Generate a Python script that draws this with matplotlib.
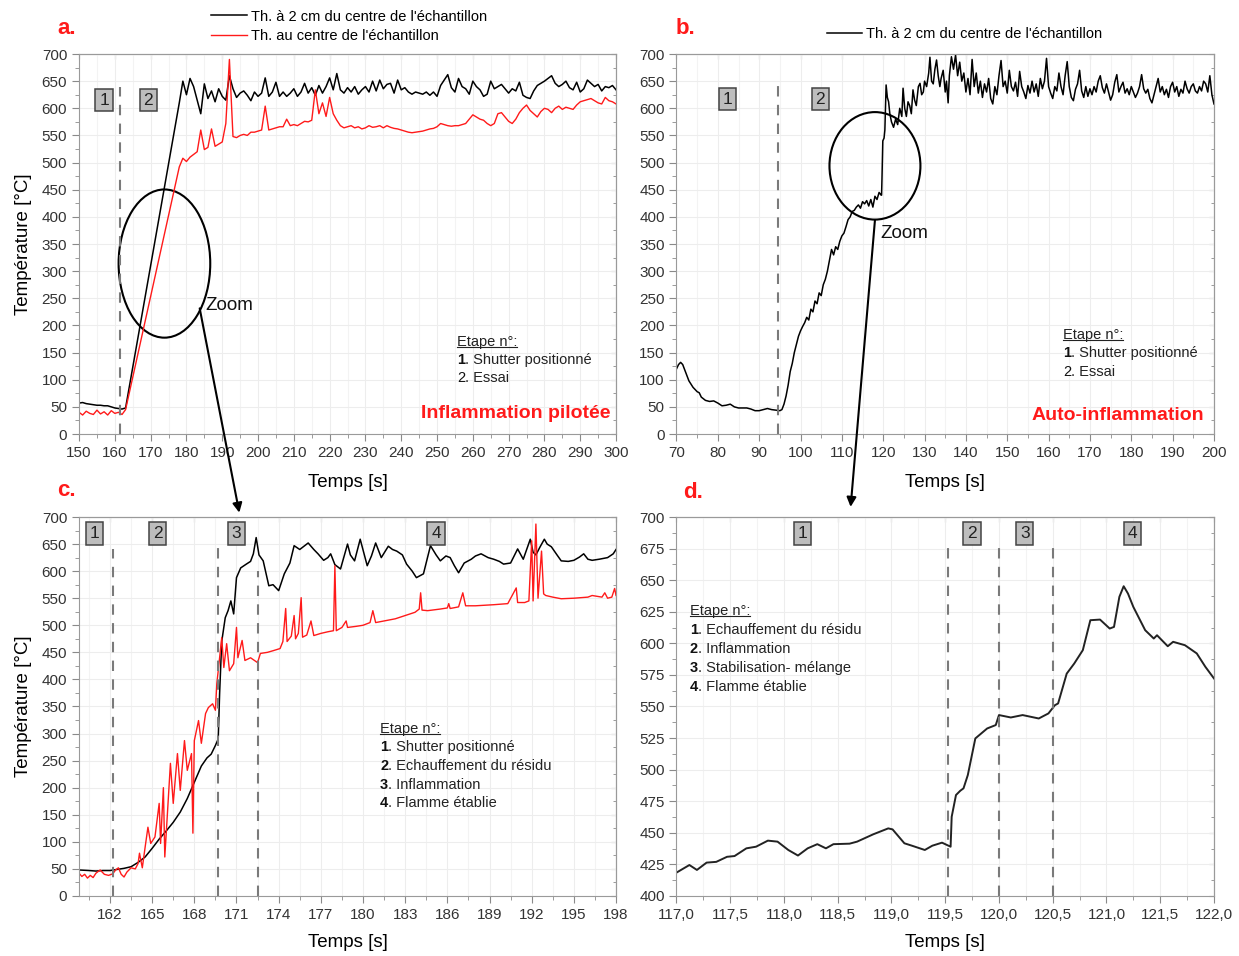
import numpy as np
import matplotlib.pyplot as plt
from matplotlib.patches import Ellipse, ConnectionPatch
from matplotlib.ticker import MultipleLocator, FuncFormatter
from matplotlib.lines import Line2D

plt.rcParams['font.family'] = ['Liberation Sans', 'DejaVu Sans']

# ---- panel a : piloted ignition (150-300 s) ----
a_early_t = [150, 151, 152, 153, 154, 155, 156, 157, 158, 159, 160, 161, 162, 163]
a_black_early = [57, 58, 56, 55, 54, 53, 53, 52, 52, 50, 48, 47, 46, 48]
a_red_early = [40, 35, 42, 38, 36, 44, 37, 41, 35, 43, 38, 40, 36, 45]
a_late_start = 178  # 1 s sampling after the gap
a_black_late = [610, 650, 625, 655, 640, 615, 590, 645, 618, 632,
                612, 636, 622, 615, 660, 636, 620, 628, 632, 624,
                614, 630, 622, 628, 656, 622, 630, 648, 622, 630,
                622, 628, 636, 622, 630, 646, 628, 638, 624, 642,
                628, 640, 656, 634, 664, 634, 628, 638, 630, 640,
                626, 634, 640, 630, 650, 632, 652, 636, 644, 646,
                628, 652, 634, 638, 630, 626, 630, 628, 626, 630,
                624, 630, 622, 642, 652, 662, 638, 630, 655, 640,
                636, 626, 650, 640, 634, 622, 626, 650, 636, 640,
                644, 636, 628, 636, 632, 648, 624, 620, 618, 632,
                642, 646, 650, 655, 660, 646, 640, 644, 650, 638,
                634, 648, 630, 636, 652, 646, 640, 644, 632, 640,
                638, 642, 634]
a_red_late = [492, 508, 502, 510, 515, 520, 560, 524, 528, 562,
              530, 534, 538, 572, 690, 548, 546, 550, 552, 550,
              556, 556, 558, 560, 604, 560, 562, 564, 566, 566,
              580, 568, 570, 568, 572, 576, 575, 578, 634, 590,
              610, 585, 620, 590, 578, 568, 564, 566, 568, 564,
              566, 562, 564, 568, 565, 566, 568, 564, 568, 565,
              563, 562, 560, 558, 556, 555, 556, 557, 558, 560,
              562, 563, 566, 572, 570, 568, 567, 568, 568, 570,
              572, 580, 588, 584, 580, 578, 572, 568, 572, 590,
              592, 584, 576, 572, 580, 592, 600, 606, 596, 590,
              584, 594, 600, 598, 592, 600, 604, 598, 602, 600,
              598, 606, 612, 614, 616, 618, 614, 610, 608, 620,
              614, 612, 608]

# ---- panel b : auto-ignition (70-200 s) ----
b_early_t = [70, 70.5, 71, 71.5, 72, 72.5, 73, 74, 75, 75.5, 76, 77, 78, 79, 80, 81, 82, 83,
             84, 85, 86, 87, 88, 89, 90, 91, 92, 93, 94, 95, 95.5, 96, 96.5, 97, 97.5, 98,
             98.5, 99, 99.5, 100, 100.5, 101, 101.5, 102, 102.5, 103, 103.5, 104, 104.5, 105,
             105.5, 106, 106.5, 107, 107.5, 108, 108.5, 109, 109.5, 110, 110.5, 111, 111.5,
             112, 112.5, 113, 113.5, 114, 114.5, 115, 115.5, 116, 116.5, 117, 117.5, 118,
             118.5, 119, 119.5, 119.6, 119.7, 119.9, 120.2, 120.4, 120.7, 121, 121.3, 121.6,
             122, 122.5, 123, 123.5, 124, 124.5, 124.8, 125.2, 125.6, 126, 126.4, 126.8,
             127.2, 127.6, 128, 128.5, 128.9, 129.3, 129.7, 130, 130.5, 131, 131.3, 131.7,
             132.1, 132.5, 132.9, 133.3, 133.7, 134, 134.5, 135, 135.3, 135.7, 136, 136.5,
             137, 137.5, 138, 138.5, 139, 139.5]
b_early_T = [120, 128, 132, 128, 118, 108, 98, 86, 78, 76, 68, 62, 60, 61, 57, 52, 53, 55,
             50, 48, 48, 48, 46, 43, 43, 45, 47, 45, 44, 43, 45, 55, 70, 90, 115, 130,
             150, 165, 180, 190, 198, 205, 215, 210, 230, 225, 245, 240, 260, 255,
             275, 285, 300, 320, 340, 330, 345, 340, 355, 365, 370, 382, 395,
             400, 410, 412, 418, 422, 416, 428, 424, 430, 420, 432, 418, 438,
             432, 445, 440, 440, 470, 540, 545, 560, 643, 620, 612, 590,
             575, 565, 580, 570, 600, 585, 637, 600, 585, 612, 605, 590,
             634, 615, 605, 640, 646, 625, 630, 650, 640, 665, 694, 650,
             645, 672, 689, 660, 640, 655, 670, 630, 650, 610, 660, 695,
             672, 698, 660, 685, 650, 665]
b_late_start = 140  # 0.5 s sampling
b_late_T = [630, 655, 625, 690, 640, 665, 628, 650, 620, 645,
            630, 655, 618, 608, 640, 625, 660, 688, 640, 650,
            628, 670, 640, 632, 648, 622, 668, 640, 630, 618,
            642, 628, 650, 630, 645, 622, 655, 636, 650, 692,
            640, 628, 618, 640, 632, 665, 640, 625, 660, 686,
            640, 620, 614, 635, 645, 670, 632, 620, 640, 622,
            636, 625, 640, 630, 650, 660, 638, 628, 645, 630,
            615, 625, 648, 662, 630, 640, 648, 628, 636, 625,
            640, 630, 620, 628, 640, 662, 636, 628, 635, 618,
            610, 625, 640, 655, 630, 640, 625, 635, 620, 640,
            648, 630, 640, 622, 635, 628, 650, 636, 628, 640,
            645, 632, 628, 640, 632, 650, 645, 630, 660, 625,
            608]

# ---- panel c : zoom on piloted ignition ----
c_black_t = [159.8, 160.5, 161, 161.5, 162, 162.5, 163, 163.5, 164, 164.5, 165, 165.5, 166,
             166.5, 167, 167.5, 168, 168.5, 168.9, 169.2, 169.5, 169.7, 169.8, 169.95, 170.2,
             170.4, 170.6, 170.8, 171.0, 171.3, 171.7, 172.0, 172.2, 172.4, 172.6, 172.9,
             173.3, 173.6, 174.0, 174.4, 174.8, 175.1, 175.5, 176.1, 176.5, 176.8, 177.2,
             177.5, 177.7, 178.0, 178.4, 178.9, 179.1, 179.4, 179.8, 180.3, 180.6, 180.9,
             181.3, 181.8, 182.1, 182.4, 182.8, 183.1, 183.5, 183.8, 184.3, 184.8, 185.2,
             185.5, 185.9, 186.2, 186.5, 186.8, 187.2, 187.7, 188.0, 188.4, 188.9, 189.3,
             189.7, 190.0, 190.5, 191.0, 191.4, 191.9, 192.1, 192.3, 192.6, 192.9, 193.1,
             193.4, 193.8, 194.1, 194.6, 195.0, 195.4, 195.7, 196.0, 196.3, 196.8, 197.4,
             197.8, 198.0]
c_black_T = [48, 47, 46, 47, 47, 49, 51, 54, 62, 72, 88, 105, 120,
             136, 155, 180, 210, 240, 255, 262, 278, 290, 374, 470, 514,
             527, 545, 521, 588, 606, 613, 618, 632, 662, 630, 619,
             573, 575, 564, 595, 615, 647, 640, 652, 640, 632, 620,
             625, 632, 612, 604, 650, 630, 619, 659, 610, 628, 652,
             625, 646, 640, 637, 630, 613, 600, 588, 595, 647, 630,
             619, 628, 625, 610, 597, 615, 622, 628, 632, 625, 622,
             618, 613, 615, 641, 622, 659, 635, 630, 645, 659, 650,
             645, 630, 619, 618, 620, 626, 632, 622, 620, 622, 625,
             632, 640]
c_red_t = [159.8, 160.0, 160.2, 160.4, 160.6, 160.8, 161.0, 161.3, 161.6, 161.9, 162.2, 162.4,
           162.6, 162.8, 163.0, 163.2, 163.5, 163.8, 164.0, 164.1, 164.3, 164.5, 164.7, 164.9,
           165.2, 165.5, 165.6, 165.8, 165.9, 166.1, 166.3, 166.5, 166.8, 167.0, 167.3, 167.5,
           167.8, 167.9, 168.0, 168.3, 168.5, 168.8, 169.0, 169.3, 169.5, 169.6, 169.7, 169.95,
           170.1, 170.3, 170.5, 170.8, 171.0, 171.1, 171.4, 171.6, 172.0, 172.5, 172.7, 173.2,
           173.6, 174.1, 174.3, 174.5, 174.6, 174.9, 175.1, 175.2, 175.4, 175.6, 175.7, 176.0,
           176.3, 176.5, 177.0, 177.5, 177.9, 178.0, 178.1, 178.5, 178.8, 178.9, 179.5, 180.0,
           180.5, 180.7, 180.9, 181.5, 182.3, 183.0, 183.7, 184.0, 184.1, 184.2, 184.6, 185.5,
           186.0, 186.1, 186.2, 186.8, 187.1, 187.3, 188.0, 189.3, 190.3, 190.9, 191.0, 191.5,
           191.8, 192.0, 192.1, 192.3, 192.45, 192.7, 192.85, 193.0, 193.5, 194.1, 195.0,
           196.0, 196.3, 197.0, 197.2, 197.4, 197.7, 197.9, 198.0]
c_red_T = [42, 36, 40, 33, 38, 34, 42, 48, 40, 38, 41, 48,
           52, 40, 35, 44, 52, 50, 60, 79, 52, 90, 127, 97,
           109, 171, 97, 200, 72, 158, 245, 171, 263, 195, 287, 232,
           263, 116, 287, 324, 282, 337, 348, 355, 343, 392, 416, 477,
           422, 466, 416, 429, 496, 440, 472, 435, 440, 431, 448, 450,
           453, 457, 470, 531, 470, 480, 518, 475, 485, 551, 478, 482,
           508, 481, 485, 488, 490, 610, 490, 496, 508, 496, 498, 500,
           505, 527, 505, 508, 512, 518, 524, 530, 560, 528, 527, 530,
           532, 540, 531, 534, 560, 536, 536, 538, 540, 569, 542, 542,
           545, 656, 545, 687, 550, 637, 558, 555, 552, 549, 550,
           552, 555, 552, 560, 550, 552, 568, 555]

# ---- panel d : zoom on auto-ignition ----
d_t = [117.0, 117.12, 117.19, 117.28, 117.37, 117.47, 117.54, 117.65, 117.74, 117.85, 117.94,
       118.04, 118.13, 118.22, 118.31, 118.39, 118.46, 118.61, 118.68, 118.83, 118.97, 119.01,
       119.12, 119.19, 119.31, 119.38, 119.47, 119.55, 119.56, 119.60, 119.64, 119.67, 119.71,
       119.78, 119.89, 119.97, 120.00, 120.11, 120.22, 120.37, 120.46, 120.52, 120.55, 120.63,
       120.70, 120.78, 120.85, 120.94, 121.03, 121.07, 121.12, 121.16, 121.20, 121.25, 121.36,
       121.44, 121.47, 121.57, 121.62, 121.73, 121.84, 121.92, 122.0]
d_T = [418.5, 424.5, 420.6, 426.4, 427, 431, 431.6, 437.7, 439, 443.8, 443,
       436.4, 432, 437.7, 441, 437.7, 441, 441.4, 443, 448.8, 453.5, 452.7,
       441.7, 439.8, 436.4, 439.8, 442.2, 439, 462.7, 479.9, 483.3, 485.2, 495.7,
       524.7, 532.6, 535.3, 543.2, 541.3, 543.2, 540.5, 544.5, 551, 552.4, 576,
       584, 594.6, 618.3, 618.8, 611.7, 613, 636.8, 645.2, 639.4, 628.8, 610.4,
       603.8, 606.4, 597.7, 601.2, 598.5, 592, 581.4, 572.2]

lbl_far = "Th. à 2 cm du centre de l'échantillon"
lbl_ctr = "Th. au centre de l'échantillon"

RED = '#ff1a1a'
DASH = '#7a7a7a'
FS = 10.5

fig = plt.figure(figsize=(12.39, 9.56), dpi=100)
ax_a = fig.add_axes([0.0638, 0.546, 0.4334, 0.3975])
ax_b = fig.add_axes([0.546, 0.546, 0.4338, 0.3975])
ax_c = fig.add_axes([0.0638, 0.0628, 0.4334, 0.3964])
ax_d = fig.add_axes([0.546, 0.0628, 0.4338, 0.3964])


def style(ax, xlim, ylim, xmaj, xmin, ymaj, ymin, fmt=None):
    ax.set_xlim(xlim)
    ax.set_ylim(ylim)
    ax.xaxis.set_major_locator(MultipleLocator(xmaj))
    ax.xaxis.set_minor_locator(MultipleLocator(xmin))
    ax.yaxis.set_major_locator(MultipleLocator(ymaj))
    ax.yaxis.set_minor_locator(MultipleLocator(ymin))
    if fmt:
        ax.xaxis.set_major_formatter(FuncFormatter(fmt))
    ax.grid(True, which='major', color='#ededed', lw=0.8)
    ax.grid(True, which='minor', axis='x', color='#f3f3f3', lw=0.8)
    ax.set_axisbelow(True)
    for s in ax.spines.values():
        s.set_color('#9a9a9a')
    ax.tick_params(which='both', direction='out', color='#8a8a8a', labelcolor='#333333', labelsize=11)
    ax.tick_params(which='major', length=5)
    ax.tick_params(which='minor', length=3)
    top = ax.secondary_xaxis('top')
    top.xaxis.set_major_locator(MultipleLocator(xmaj))
    top.xaxis.set_minor_locator(MultipleLocator(xmin))
    top.tick_params(which='both', direction='in', labeltop=False, color='#8a8a8a')
    top.spines['top'].set_color('#9a9a9a')
    right = ax.secondary_yaxis('right')
    right.yaxis.set_major_locator(MultipleLocator(ymaj))
    right.yaxis.set_minor_locator(MultipleLocator(ymin))
    right.tick_params(which='both', direction='in', labelright=False, color='#8a8a8a')
    right.spines['right'].set_color('#9a9a9a')


def box(ax, x, y, s):
    ax.text(x, y, s, ha='center', va='center', fontsize=12.5, color='#222222',
            bbox=dict(boxstyle='square,pad=0.22', fc='#bdbdbd', ec='#444444', lw=1.1))


def vdash(ax, x, y0, y1):
    ax.plot([x, x], [y0, y1], color=DASH, lw=1.5, ls=(0, (5, 4)))


underlines = []


def etape(ax, x, ys, items):
    t = ax.text(x, ys[0], 'Etape n°:', transform=ax.transAxes, fontsize=FS,
                color='#222222', va='center')
    underlines.append(t)
    for y, (num, txt, bold) in zip(ys[1:], items):
        tn = ax.text(x, y, num, transform=ax.transAxes, fontsize=FS, va='center',
                     fontweight='bold' if bold else 'normal', color='#111111')
        ax.annotate(txt, xy=(1, 0), xycoords=tn, va='bottom', ha='left',
                    fontsize=FS, color='#222222')


# panel a
ax_a.plot(a_early_t + [a_late_start + i for i in range(len(a_black_late))],
          a_black_early + a_black_late, color='black', lw=1.1, label=lbl_far)
ax_a.plot(a_early_t + [a_late_start + i for i in range(len(a_red_late))],
          a_red_early + a_red_late, color=RED, lw=1.0, label=lbl_ctr)
style(ax_a, (150, 300), (0, 700), 10, 5, 50, 25)
vdash(ax_a, 161.3, 0, 640)
box(ax_a, 157, 615, '1')
box(ax_a, 169.3, 615, '2')
ax_a.add_patch(Ellipse((173.85, 314), 25.6, 273, fill=False, ec='black', lw=1.5))
ax_a.text(185.3, 237, 'Zoom', fontsize=13.5, va='center', color='#111111')
ax_a.text(0.989, 0.053, 'Inflammation pilotée', transform=ax_a.transAxes, ha='right',
          va='center', color=RED, fontsize=14, fontweight='bold')
etape(ax_a, 0.704, [0.242, 0.195, 0.147],
      [('1', '. Shutter positionné', True), ('2', '. Essai', False)])
ax_a.legend(loc='lower left', bbox_to_anchor=(0.245, 1.03), frameon=False, fontsize=FS,
            handlelength=2.5, handletextpad=0.25, labelspacing=0.35, borderpad=0,
            borderaxespad=0)
ax_a.set_xlabel('Temps [s]', fontsize=13.5)
ax_a.set_ylabel('Température [°C]', fontsize=13.5)
ax_a.xaxis.set_label_coords(0.5, -0.105)
ax_a.yaxis.set_label_coords(-0.088, 0.5)

# panel b
ax_b.plot(b_early_t + [b_late_start + 0.5 * i for i in range(len(b_late_T))],
          b_early_T + b_late_T, color='black', lw=1.1, label=lbl_far)
style(ax_b, (70, 200), (0, 700), 10, 5, 50, 25)
vdash(ax_b, 94.5, 0, 645)
box(ax_b, 82.3, 617, '1')
box(ax_b, 104.8, 617, '2')
ax_b.add_patch(Ellipse((118.0, 494), 22, 198, fill=False, ec='black', lw=1.5))
ax_b.text(119.4, 370, 'Zoom', fontsize=13.5, va='center', color='#111111')
ax_b.text(0.981, 0.05, 'Auto-inflammation', transform=ax_b.transAxes, ha='right',
          va='center', color=RED, fontsize=14, fontweight='bold')
etape(ax_b, 0.719, [0.26, 0.213, 0.163],
      [('1', '. Shutter positionné', True), ('2', '. Essai', False)])
ax_b.legend(loc='lower left', bbox_to_anchor=(0.28, 1.033), frameon=False, fontsize=FS,
            handlelength=2.4, handletextpad=0.3, borderpad=0, borderaxespad=0)
ax_b.set_xlabel('Temps [s]', fontsize=13.5)
ax_b.xaxis.set_label_coords(0.5, -0.105)

# panel c
ax_c.plot(c_black_t, c_black_T, color='black', lw=1.1)
ax_c.plot(c_red_t, c_red_T, color=RED, lw=1.0)
style(ax_c, (159.8, 198), (0, 700), 3, 1.5, 50, 25)
vdash(ax_c, 162.2, 0, 640)
vdash(ax_c, 169.65, 0, 645)
vdash(ax_c, 172.55, 0, 600)
box(ax_c, 160.9, 669, '1')
box(ax_c, 165.4, 669, '2')
box(ax_c, 171.0, 669, '3')
box(ax_c, 185.2, 669, '4')
etape(ax_c, 0.5605, [0.441, 0.393, 0.343, 0.293, 0.245],
      [('1', '. Shutter positionné', True), ('2', '. Echauffement du résidu', True),
       ('3', '. Inflammation', True), ('4', '. Flamme établie', True)])
ax_c.set_xlabel('Temps [s]', fontsize=13.5)
ax_c.set_ylabel('Température [°C]', fontsize=13.5)
ax_c.xaxis.set_label_coords(0.5, -0.1)
ax_c.yaxis.set_label_coords(-0.088, 0.5)

# panel d
ax_d.plot(d_t, d_T, color='#222222', lw=1.4)
style(ax_d, (117, 122), (400, 700), 0.5, 0.25, 25, 12.5,
      fmt=lambda v, p: f'{v:.1f}'.replace('.', ','))
vdash(ax_d, 119.53, 400, 677)
vdash(ax_d, 120.0, 400, 677)
vdash(ax_d, 120.5, 400, 677)
box(ax_d, 118.17, 687, '1')
box(ax_d, 119.75, 687, '2')
box(ax_d, 120.24, 687, '3')
box(ax_d, 121.24, 687, '4')
etape(ax_d, 0.025, [0.752, 0.702, 0.652, 0.602, 0.551],
      [('1', '. Echauffement du résidu', True), ('2', '. Inflammation', True),
       ('3', '. Stabilisation- mélange', True), ('4', '. Flamme établie', True)])
ax_d.set_xlabel('Temps [s]', fontsize=13.5)
ax_d.xaxis.set_label_coords(0.5, -0.1)

# zoom arrows between panels
for xa, axa, xb, axb in [((183.7, 231.5), ax_a, (171.2, 708), ax_c),
                         ((118.0, 394), ax_b, (118.62, 708), ax_d)]:
    con = ConnectionPatch(xyA=xa, coordsA=axa.transData, xyB=xb, coordsB=axb.transData,
                          arrowstyle='-|>', color='black', lw=1.5, mutation_scale=14)
    fig.add_artist(con)

# panel letters
for x, y, s in [(0.046, 0.97, 'a.'), (0.545, 0.97, 'b.'), (0.046, 0.487, 'c.'), (0.551, 0.485, 'd.')]:
    fig.text(x, y, s, color=RED, fontsize=16, fontweight='bold', va='center')

# underline the "Etape n°:" headers
fig.canvas.draw()
r = fig.canvas.get_renderer()
for t in underlines:
    bb = t.get_window_extent(r).transformed(fig.transFigure.inverted())
    fig.add_artist(Line2D([bb.x0, bb.x1], [bb.y0 + 0.002, bb.y0 + 0.002], color='#222222', lw=0.8))

fig.savefig('out.png', dpi=100)
